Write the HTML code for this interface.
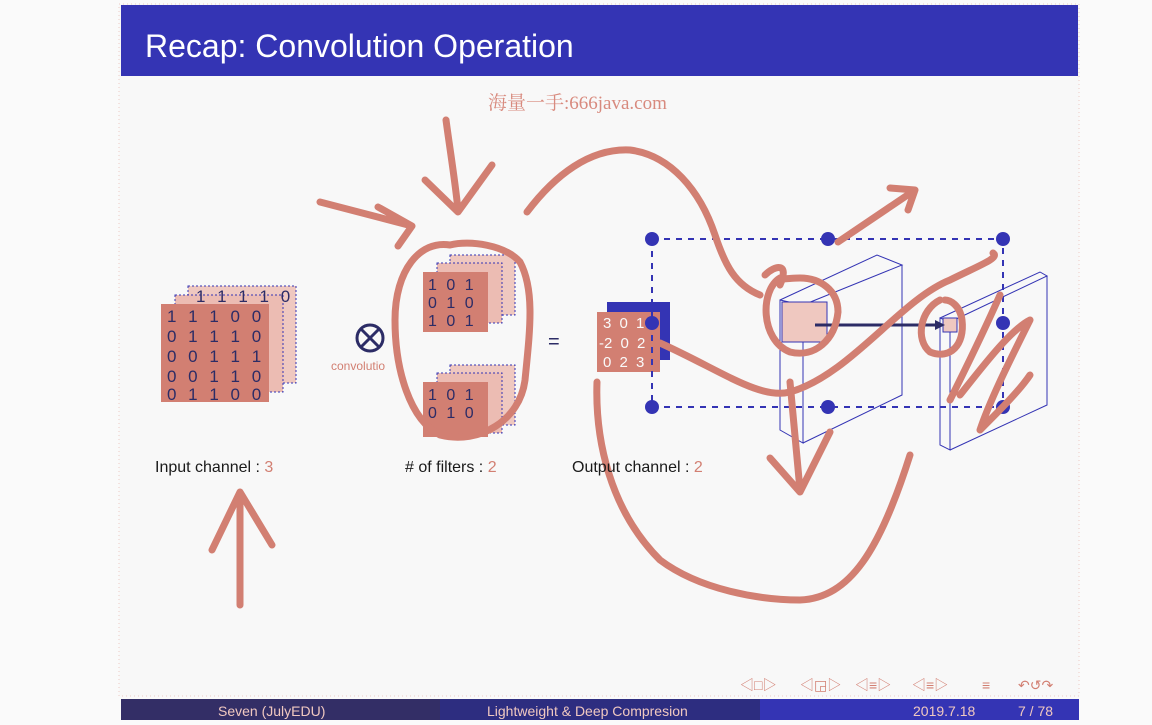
<!DOCTYPE html>
<html><head><meta charset="utf-8"><style>
html,body{margin:0;padding:0;background:#fafafa;width:1152px;height:720px;overflow:hidden;font-family:"Liberation Sans","Noto Sans CJK SC",sans-serif}
#slide{position:absolute;left:0;top:0;width:1152px;height:720px}
</style></head><body>
<div id="slide">
<svg width="1152" height="720" xmlns="http://www.w3.org/2000/svg">
<rect x="0" y="0" width="1152" height="720" fill="#fafafa"/>
<rect x="119" y="4" width="960" height="692" fill="#f8f8f8" stroke="#eccac4" stroke-width="1" stroke-dasharray="1 3"/>
<rect x="121" y="5" width="957" height="71" fill="#3434b4"/>
<text x="145" y="57" font-size="32" fill="#ffffff">Recap: Convolution Operation</text>
<text x="488" y="109" font-size="19" fill="#d88a7e" font-family="Liberation Serif,Noto Serif CJK SC,serif">海量一手:666java.com</text>

<g>
<rect x="188" y="286" width="108" height="97" fill="#efc8c0" stroke="#3434b4" stroke-dasharray="2 2"/>
<rect x="175" y="295" width="108" height="97" fill="#ecbcb3" stroke="#3434b4" stroke-dasharray="2 2"/>
<rect x="161" y="304" width="108" height="98" fill="#d27f72"/>
<g font-size="17" fill="#2c2c66" word-spacing="7">
<text x="196" y="302">1 1 1 1 0</text>
<text x="167" y="322">1 1 1 0 0</text>
<text x="167" y="342">0 1 1 1 0</text>
<text x="167" y="362">0 0 1 1 1</text>
<text x="167" y="382">0 0 1 1 0</text>
<text x="167" y="400">0 1 1 0 0</text>
</g>
</g>
<circle cx="370" cy="338" r="13" fill="none" stroke="#2c2c66" stroke-width="3"/>
<path d="M361 329L379 347M379 329L361 347" stroke="#2c2c66" stroke-width="3"/>
<text x="331" y="370" font-size="12" fill="#d27f72">convolutio</text>

<g>
<rect x="450" y="255" width="65" height="60" fill="#efc8c0" stroke="#3434b4" stroke-dasharray="2 2"/>
<rect x="437" y="263" width="65" height="60" fill="#ecbcb3" stroke="#3434b4" stroke-dasharray="2 2"/>
<rect x="423" y="272" width="65" height="60" fill="#d27f72"/>
<rect x="450" y="365" width="65" height="60" fill="#efc8c0" stroke="#3434b4" stroke-dasharray="2 2"/>
<rect x="437" y="373" width="65" height="60" fill="#ecbcb3" stroke="#3434b4" stroke-dasharray="2 2"/>
<rect x="423" y="382" width="65" height="55" fill="#d27f72"/>
<g font-size="16" fill="#2c2c66" word-spacing="5"><text x="428" y="290">1 0 1</text><text x="428" y="308">0 1 0</text><text x="428" y="326">1 0 1</text><text x="428" y="400">1 0 1</text><text x="428" y="418">0 1 0</text></g>
</g>
<text x="548" y="348" font-size="20" fill="#2c2c66">=</text>
<g>
<rect x="607" y="302" width="63" height="58" fill="#3434b4"/>
<rect x="597" y="312" width="63" height="60" fill="#d27f72"/>
<g font-size="15" fill="#fafafa" word-spacing="4"><text x="603" y="328">3 0 1</text><text x="599" y="348">-2 0 2</text><text x="603" y="367">0 2 3</text></g>
</g>
<g stroke="#3434b4" stroke-width="2" stroke-dasharray="6 6" fill="none">
<rect x="652" y="239" width="351" height="168"/>
</g>
<g fill="#3434b4">
<circle cx="652" cy="239" r="7"/><circle cx="828" cy="239" r="7"/><circle cx="1003" cy="239" r="7"/>
<circle cx="652" cy="323" r="7"/><circle cx="1003" cy="323" r="7"/>
<circle cx="652" cy="407" r="7"/><circle cx="828" cy="407" r="7"/><circle cx="1003" cy="407" r="7"/>
</g>
<g fill="none" stroke="#3434b4" stroke-width="1">
<path d="M780 300L803 305L803 443L780 430Z M780 300L877 255L902 265L803 305 M902 265L902 395L803 443"/>
<path d="M940 318L950 322L950 450L940 445Z M940 318L1040 272L1047 276L950 322 M1047 276L1047 405L950 450"/>
<rect x="782" y="302" width="45" height="40" fill="#efc8c0"/>
<rect x="943" y="318" width="14" height="14" fill="#efc8c0"/>
</g>
<path d="M815 325L935 325" stroke="#2c2c66" stroke-width="3"/><path d="M935 320L945 325L935 330Z" fill="#2c2c66"/>

<g fill="none" stroke="#d27f72" stroke-width="7" stroke-linecap="round" stroke-linejoin="round">
<path d="M320 202L412 226M378 207L412 226L398 246"/>
<path d="M446 120C450 150 455 180 458 210M425 180L458 212L492 165"/>
<path d="M450 245C420 240 395 270 395 320C395 370 410 420 440 435C480 445 520 420 525 380C530 330 535 290 520 262C505 245 470 240 450 245"/>
<path d="M527 212C555 175 590 148 630 150C670 155 700 190 715 235C725 265 735 285 760 295"/>
<path d="M765 275C775 265 790 262 780 285"/>
<path d="M780 278C760 290 760 340 790 352C815 358 835 340 838 312C838 290 820 278 800 278C790 278 782 280 780 278"/>
<path d="M838 242L915 190M890 188L915 190L908 210"/>
<path d="M660 343C720 370 760 400 790 392C850 375 900 300 950 280C980 265 1000 258 993 253"/>
<path d="M940 300C920 310 915 340 930 352C950 360 965 345 962 320C960 305 950 300 945 300"/>
<path d="M1000 295C980 340 960 380 950 400M960 395C980 370 1010 330 1030 320C1010 360 990 400 980 430C1000 410 1020 390 1030 375"/>
<path d="M597 382C595 440 610 510 660 560C700 590 760 600 800 600C850 598 880 550 910 455"/>
<path d="M790 382L800 490M770 458L800 492L830 432"/>
<path d="M240 605L240 492M212 550L240 492L272 545"/>
</g>

<g font-size="16" fill="#1a1a1a">
<text x="155" y="472">Input channel : <tspan fill="#d27f72">3</tspan></text>
<text x="405" y="472"># of filters : <tspan fill="#d27f72">2</tspan></text>
<text x="572" y="472">Output channel : <tspan fill="#d27f72">2</tspan></text>
</g>
<g font-size="14" fill="#d27f72">
<text x="740" y="690">◁□▷</text><text x="800" y="690">◁◲▷</text><text x="855" y="690">◁≡▷</text><text x="912" y="690">◁≡▷</text><text x="982" y="690">≡</text><text x="1018" y="690">↶↺↷</text>
</g>

<g>
<rect x="121" y="699" width="320" height="21" fill="#332e66"/>
<rect x="440" y="699" width="320" height="21" fill="#2d2d80"/>
<rect x="760" y="699" width="319" height="21" fill="#3434b4"/>
<g font-size="14" fill="#f0c8c0">
<text x="218" y="716">Seven (JulyEDU)</text>
<text x="487" y="716">Lightweight &amp; Deep Compresion</text>
<text x="913" y="716">2019.7.18</text>
<text x="1018" y="716">7 / 78</text>
</g>
</g>
</svg>
</div>
</body></html>
